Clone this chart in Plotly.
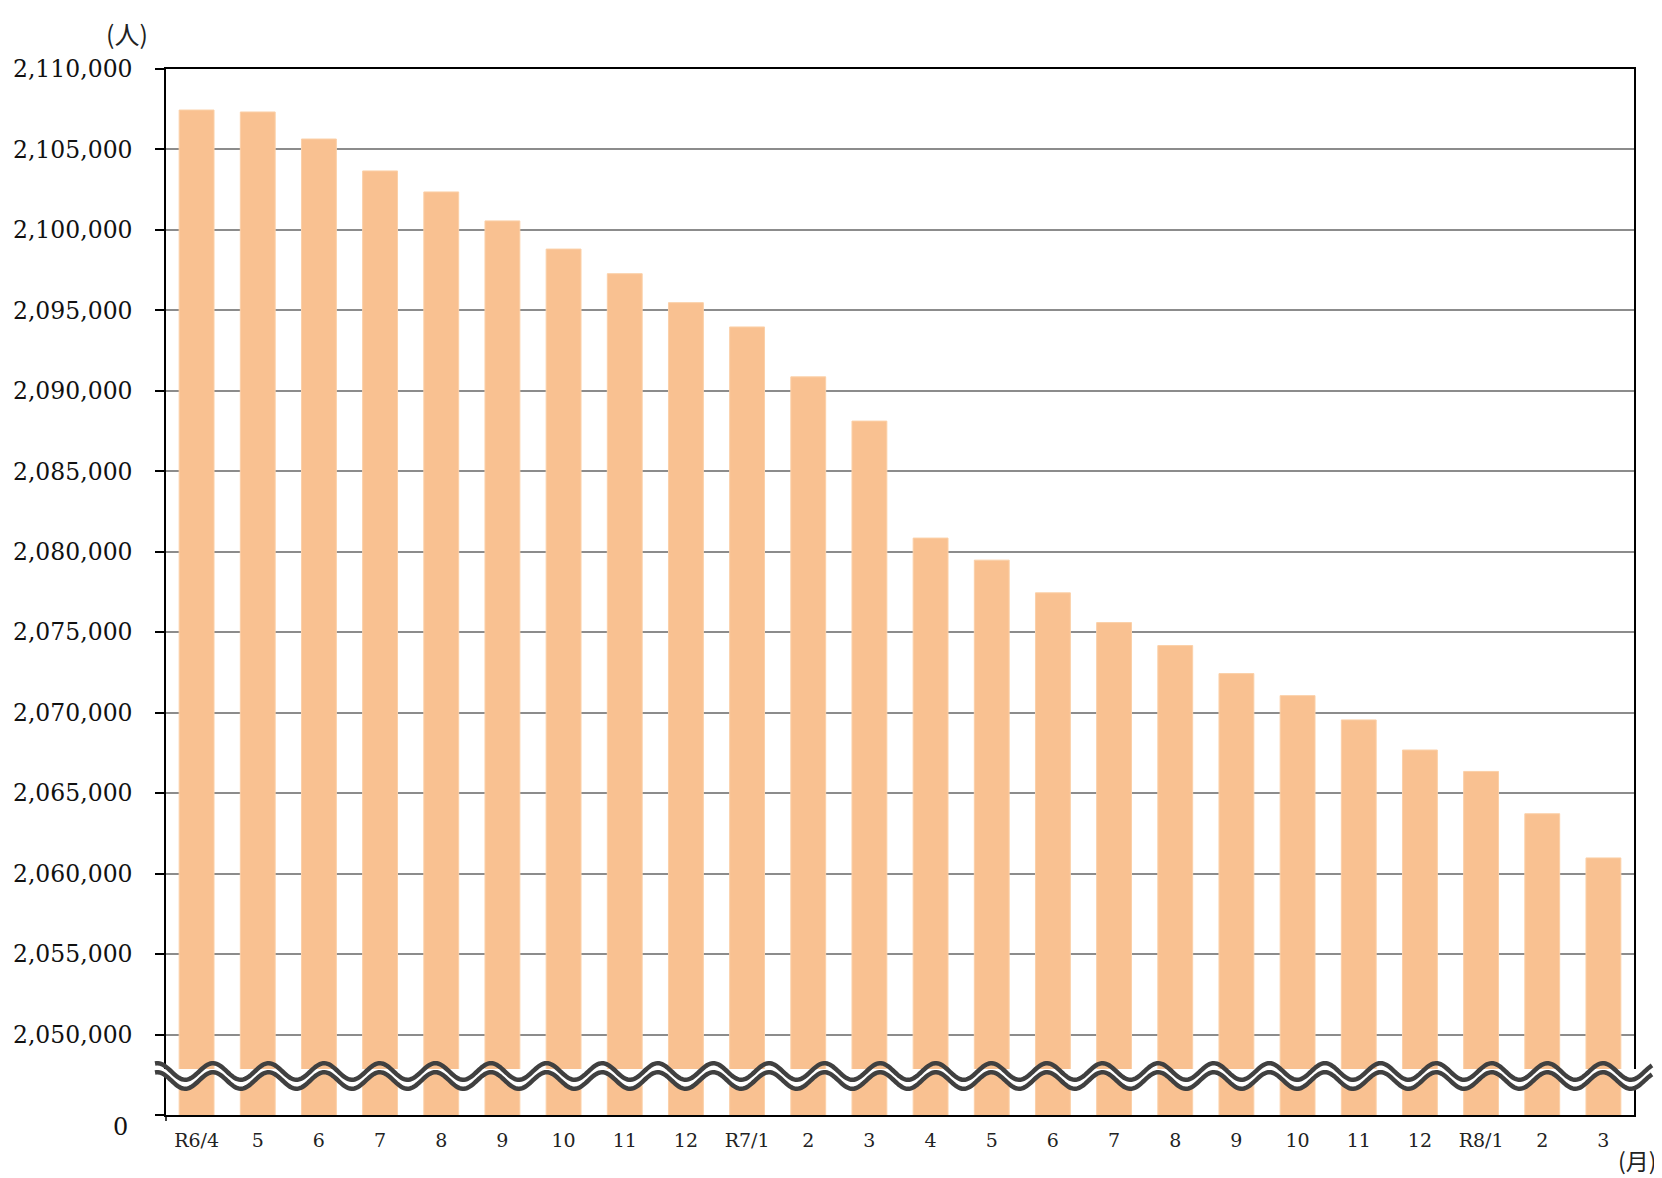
import numpy as np
import plotly.graph_objects as go

# ---------------- data ----------------
month_labels = ["R6/4", "5", "6", "7", "8", "9", "10", "11", "12",
                "R7/1", "2", "3", "4", "5", "6", "7", "8", "9", "10", "11", "12",
                "R8/1", "2", "3"]
population = [2107450, 2107330, 2105650, 2103665, 2102360, 2100560, 2098810,
              2097280, 2095480, 2093970, 2090870, 2088120, 2080850, 2079480,
              2077450, 2075600, 2074170, 2072430, 2071060, 2069550, 2067680,
              2066350, 2063720, 2060975]
y_tick_values = list(range(2045000, 2110001, 5000))
y_tick_text = [""] + [f"{v:,}" for v in y_tick_values[1:]]

# ---------------- layout constants (page body has an 8px margin) ----------------
OFF = 8
W, H = 1654, 1170
ML, MR, MT, MB = 158, 28, 61, 63
PW, PH = W - ML - MR, H - MT - MB
PLOT_LEFT = OFF + ML          # page px
PLOT_BOTTOM = OFF + H - MB    # page px


def px_x(px):
    return (px - PLOT_LEFT) / PW


def px_y(py):
    return (PLOT_BOTTOM - py) / PH


x_idx = list(range(len(month_labels)))

fig = go.Figure()
fig.add_trace(go.Bar(
    x=x_idx, y=population,
    marker=dict(color="#F9C191", line=dict(color="#FBD0A8", width=1)),
    hoverinfo="x+y",
))

# ---------------- axis break (wavy double line) ----------------
period = 55.6
x0_wave, x1_wave = 155, 1652
xs = np.arange(x0_wave, x1_wave + 0.5, 1.5)
phase = np.cos(2 * np.pi * (xs - 213) / period)
upper = 1071.5 - 8.3 * phase
lower = 1080.5 - 8.3 * phase


def path_from(xpx, ypx):
    pts = [f"{px_x(a):.5f},{px_y(b):.5f}" for a, b in zip(xpx, ypx)]
    return "M " + " L ".join(pts)


cover = "M {:.5f},{:.5f} L {:.5f},{:.5f} ".format(px_x(x0_wave), px_y(1069),
                                                 px_x(x1_wave), px_y(1069))
cover += " ".join(f"L {px_x(a):.5f},{px_y(b):.5f}" for a, b in zip(xs[::-1], lower[::-1])) + " Z"

shapes = [
    dict(type="path", xref="paper", yref="paper", path=cover,
         fillcolor="white", line=dict(width=0), layer="above"),
    dict(type="path", xref="paper", yref="paper", path=path_from(xs, upper),
         line=dict(color="#404040", width=4.5), layer="above"),
    dict(type="path", xref="paper", yref="paper", path=path_from(xs, lower),
         line=dict(color="#404040", width=4.5), layer="above"),
    dict(type="line", xref="paper", yref="paper",
         x0=0, x1=0, y0=0, y1=px_y(1121), line=dict(color="black", width=1.5)),
]

annotations = [
    dict(text="0", xref="paper", yref="paper", x=px_x(130), y=px_y(1127),
         xanchor="right", yanchor="middle", showarrow=False,
         font=dict(family="DejaVu Serif", size=24, color="#111")),
    dict(text="(人)", xref="paper", yref="paper", x=px_x(127), y=px_y(33),
         xanchor="center", yanchor="middle", showarrow=False,
         font=dict(family="Noto Sans CJK JP", size=25, color="#222")),
    dict(text="(月)", xref="paper", yref="paper", x=px_x(1637), y=px_y(1160),
         xanchor="center", yanchor="middle", showarrow=False,
         font=dict(family="Noto Sans CJK JP", size=23, color="#222")),
]

fig.update_layout(
    width=W, height=H,
    margin=dict(l=ML, r=MR, t=MT, b=MB),
    paper_bgcolor="white", plot_bgcolor="white",
    bargap=0.43,
    showlegend=False,
    shapes=shapes,
    annotations=annotations,
    xaxis=dict(
        range=[-0.5, len(month_labels) - 0.5],
        tickmode="array", tickvals=x_idx, ticktext=month_labels,
        showgrid=False, zeroline=False, automargin=False,
        showline=True, linecolor="black", linewidth=1.5, mirror=True,
        ticks="", ticklabelstandoff=7,
        tickfont=dict(family="DejaVu Serif", size=19, color="#222"),
    ),
    yaxis=dict(
        range=[2045000, 2110000],
        tickmode="array", tickvals=y_tick_values, ticktext=y_tick_text,
        showgrid=True, gridcolor="#8c8c8c", gridwidth=2,
        zeroline=False, automargin=False,
        showline=True, linecolor="black", linewidth=1.5, mirror=True,
        ticks="outside", ticklen=9, tickcolor="black", tickwidth=1.5,
        ticklabelstandoff=18,
        tickfont=dict(family="DejaVu Serif", size=23.5, color="#111"),
    ),
)

fig.write_html("out.html")
